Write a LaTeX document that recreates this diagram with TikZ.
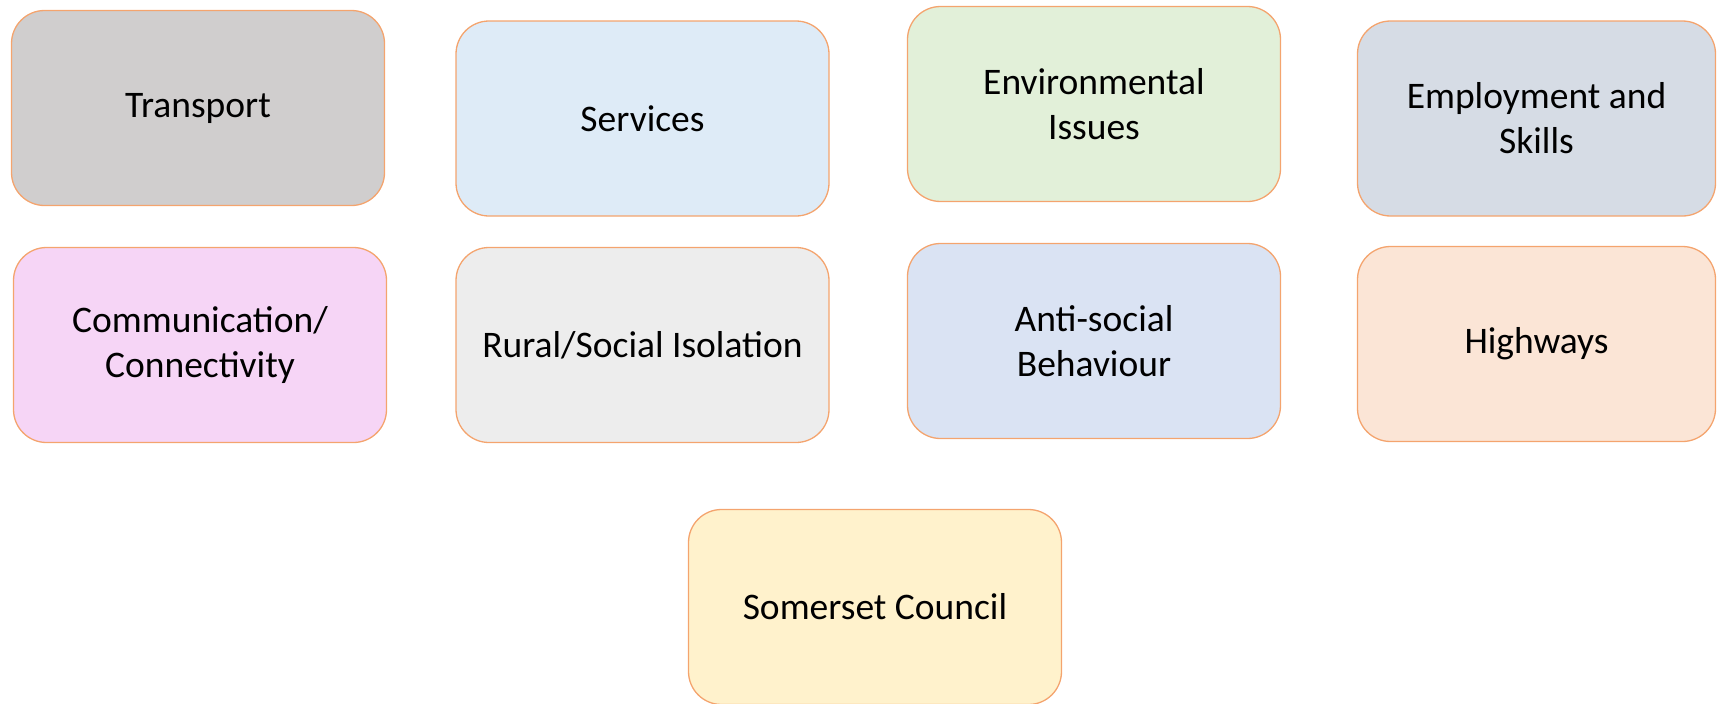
\documentclass[tikz,border=0pt]{standalone}
\usepackage{fontspec}
\setmainfont{Carlito}
\definecolor{edgeor}{HTML}{F4A46E}
\definecolor{cTransport}{HTML}{D0CECE}
\definecolor{cServices}{HTML}{DEEBF7}
\definecolor{cEnv}{HTML}{E2F0D9}
\definecolor{cEmp}{HTML}{D6DCE5}
\definecolor{cComm}{HTML}{F6D5F6}
\definecolor{cRural}{HTML}{EDEDED}
\definecolor{cAnti}{HTML}{DAE3F3}
\definecolor{cHigh}{HTML}{FBE5D6}
\definecolor{cSom}{HTML}{FFF2CC}
\begin{document}
\begin{tikzpicture}[x=1pt,y=-1pt,
  topicbox/.style={draw=edgeor, line width=1.3pt, rounded corners=33pt,
    minimum width=373pt, minimum height=195pt, inner sep=0pt, align=center,
    font=\fontsize{37.5}{45}\selectfont, text=black},
  edgebox/.style={topicbox, minimum width=358pt}]
\useasboundingbox (0,0) rectangle (1717,704);
\node[topicbox, fill=cTransport] (transport) at (198,108) {Transport};
\node[topicbox, fill=cServices] (services) at (642.5,118.5) {Services};
\node[topicbox, fill=cEnv] (env) at (1094,104) {Environmental\\Issues};
\node[edgebox, fill=cEmp] (emp) at (1536.5,118.5) {Employment and\\Skills};
\node[topicbox, fill=cComm] (comm) at (200,345) {Communication/\\Connectivity};
\node[topicbox, fill=cRural] (rural) at (642.5,345) {Rural/Social Isolation};
\node[topicbox, fill=cAnti] (anti) at (1094,341) {Anti-social\\Behaviour};
\node[edgebox, fill=cHigh] (high) at (1536.5,344) {Highways};
\node[topicbox, fill=cSom] (som) at (875,607) {Somerset Council};
\end{tikzpicture}
\end{document}
